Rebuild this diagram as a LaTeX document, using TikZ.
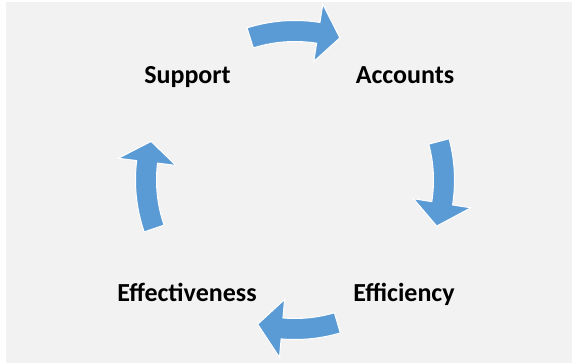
\documentclass[tikz,border=0pt]{standalone}
\usepackage{fontspec}
\setmainfont{Carlito}
\definecolor{bg}{HTML}{F2F2F2}
\definecolor{arrowblue}{HTML}{5B9BD5}
\tikzset{
  lbl/.style={font=\fontsize{26}{30}\selectfont\bfseries, anchor=base, inner sep=0pt, text=black},
  cyc/.style={fill=arrowblue, draw=white, line width=1pt, line join=miter}
}
% #1 start angle, #2 head base angle, #3 tip angle
\newcommand{\cycarrow}[3]{%
  \draw[cyc] (#1:159.5) arc[start angle=#1, end angle=#2, radius=159.5]
    -- (#2:178) -- (#3:149) -- (#2:120) -- (#2:138.5)
    arc[start angle=#2, end angle=#1, radius=138.5] -- cycle;
}
\begin{document}
\begin{tikzpicture}[x=1pt,y=1pt]
\useasboundingbox (0,0) rectangle (572,363);
\fill[white] (0,0) rectangle (572,363);
\fill[bg] (6,0) rectangle (572,361);
\node[lbl] (support) at (187.5,279) {Support};
\node[lbl] (accounts) at (405,279) {Accounts};
\node[lbl] (efficiency) at (404,61) {Efficiency};
\node[lbl] (effect) at (187,61) {Effectiveness};
\begin{scope}[shift={(295,183)}]
\cycarrow{107.5}{81}{72.5}
\cycarrow{15}{-9}{-18}
\cycarrow{-73.5}{-95}{-104.5}
\cycarrow{199}{173}{165}
\end{scope}
\end{tikzpicture}
\end{document}
